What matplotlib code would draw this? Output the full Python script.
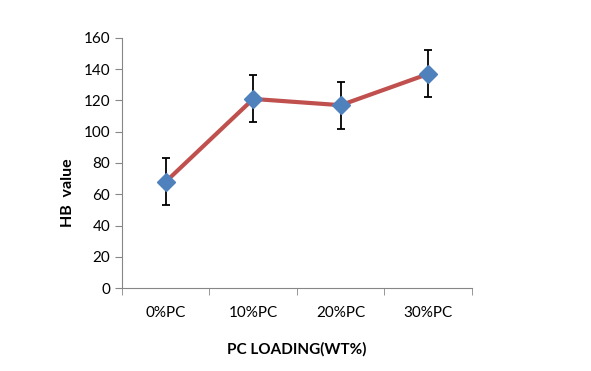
import matplotlib.pyplot as plt
import numpy as np

categories = ['0%PC', '10%PC', '20%PC', '30%PC']
hb_values = [68, 121, 117, 137]
hb_errors = [15, 15, 15, 15]

plt.rcParams['font.family'] = ['Lato', 'DejaVu Sans']

fig = plt.figure(figsize=(5.91, 3.71), dpi=100)
ax = fig.add_axes([0.2064, 0.2237, 0.5922, 0.6739])

x = np.arange(len(categories))
ax.errorbar(x, hb_values, yerr=hb_errors, fmt='none', ecolor='black',
            elinewidth=1.3, capsize=3, capthick=1.3, zorder=2)
ax.plot(x, hb_values, '-', color='#C0504D', linewidth=3, zorder=3)
ax.plot(x, hb_values, 'D', color='#4F81BD', markersize=9, zorder=4)

ax.set_xlim(-0.5, len(categories) - 0.5)
ax.set_ylim(0, 160)
ax.set_yticks(range(0, 161, 20))
ax.set_xticks(x)
ax.set_xticklabels(categories, fontsize=11)
ax.set_xticks(np.arange(-0.5, len(categories)), minor=True)
ax.tick_params(axis='x', which='major', length=0, pad=13)
ax.tick_params(axis='x', which='minor', length=5, color='#868686')
ax.tick_params(axis='y', length=5, color='#868686', labelsize=11)

for s in ['top', 'right']:
    ax.spines[s].set_visible(False)
for s in ['left', 'bottom']:
    ax.spines[s].set_color('#868686')

ax.set_xlabel('PC LOADING(WT%)', fontsize=11, fontweight='bold', labelpad=16)
ax.set_ylabel('HB  value', fontsize=11.5, fontweight='bold', va='center')
ax.yaxis.set_label_coords(-0.155, 0.38)

fig.savefig('out.png', dpi=100)
